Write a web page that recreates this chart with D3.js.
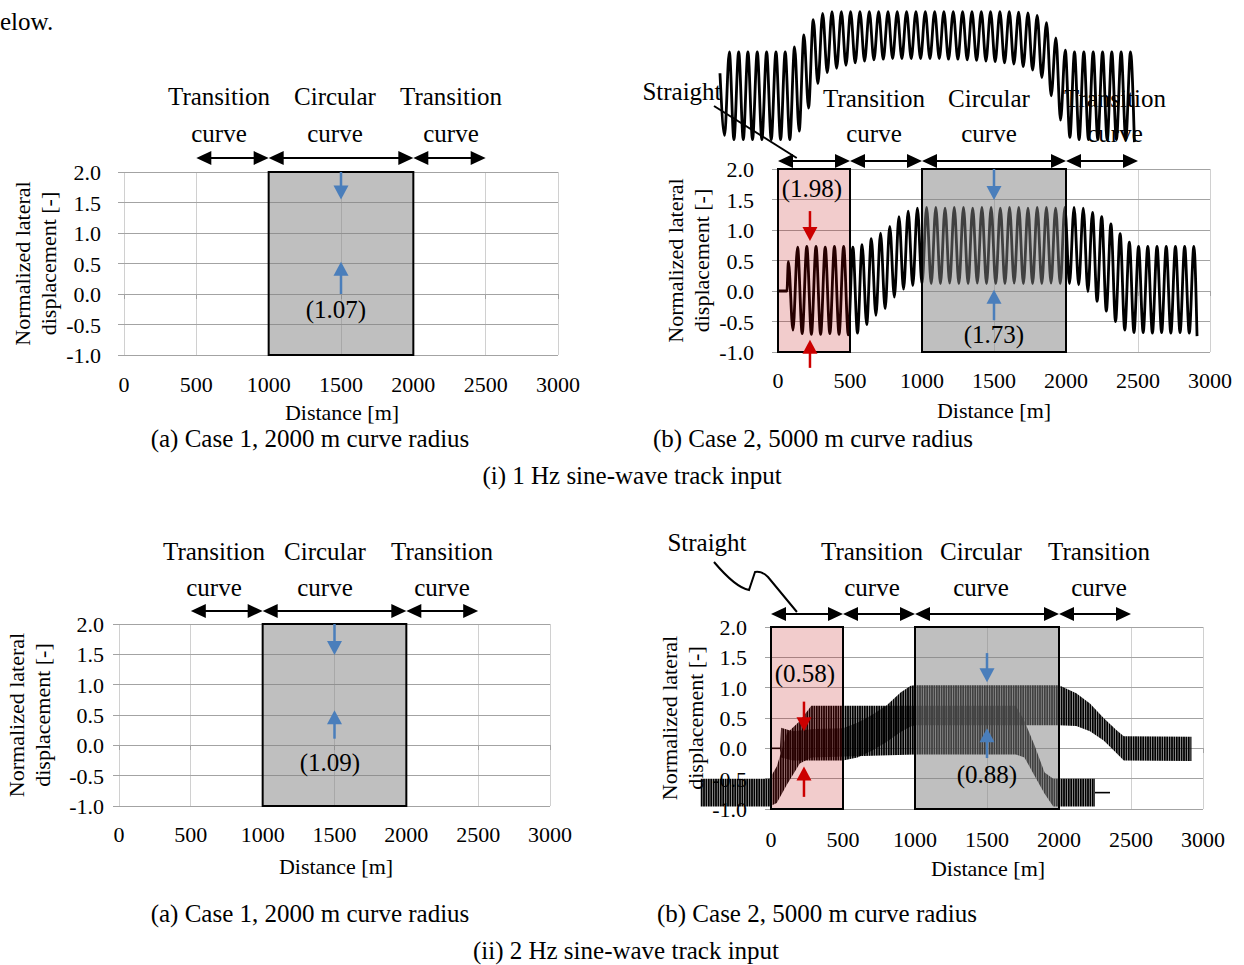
<!DOCTYPE html>
<html lang="en">
<head>
<meta charset="utf-8">
<script src="https://d3js.org/d3.v7.min.js"></script>
<style>
body { margin: 0; background: #fff; }
svg text { font-family: "Liberation Serif", "Times New Roman", serif; fill: #000; }
</style>
</head>
<body>
<script>
// ---- values ----
const xTicks = [0, 500, 1000, 1500, 2000, 2500, 3000];
const yTicks = [2.0, 1.5, 1.0, 0.5, 0.0, -0.5, -1.0];
const sectionTop = ["Transition", "Circular", "Transition"];
const sectionBottom = ["curve", "curve", "curve"];
const curveSpans = [[500, 1000], [1000, 2000], [2000, 2500]];
const straightSpan = [0, 500];
const circularSpan = [1000, 2000];
const ampLabels = ["(1.07)", "(1.98)", "(1.73)", "(1.09)", "(0.58)", "(0.88)"];
const captions = ["(a) Case 1, 2000 m curve radius", "(b) Case 2, 5000 m curve radius",
                  "(i) 1 Hz sine-wave track input", "(ii) 2 Hz sine-wave track input"];

// 1 Hz, case 2: successive peaks / troughs [distance m, displacement]
const wave1Hz = [
  [0,0],[62,0],[72,0.48],[104,-0.64],[136,0.72],[168,-0.70],[200,0.73],[232,-0.71],
  [264,0.73],[296,-0.71],[328,0.72],[360,-0.70],[392,0.73],[424,-0.71],[456,0.73],[488,-0.72],
  [520,0.72],[552,-0.69],[584,0.76],[616,-0.55],[648,0.86],[680,-0.40],[712,0.95],[744,-0.29],
  [776,1.06],[808,-0.10],[840,1.22],[872,0.03],[904,1.31],[936,0.09],[968,1.36],[1000,0.12],
  [1032,1.37],[1064,0.12],[1096,1.37],[1128,0.12],[1160,1.36],[1192,0.13],[1224,1.37],[1256,0.12],
  [1288,1.37],[1320,0.12],[1352,1.36],[1384,0.13],[1416,1.37],[1448,0.12],[1480,1.37],[1512,0.12],
  [1544,1.36],[1576,0.12],[1608,1.37],[1640,0.13],[1672,1.37],[1704,0.12],[1736,1.36],[1768,0.12],
  [1800,1.37],[1832,0.12],[1864,1.37],[1896,0.13],[1928,1.36],[1960,0.12],[1992,1.37],[2024,0.12],
  [2056,1.37],[2088,0.10],[2120,1.36],[2152,-0.01],[2184,1.29],[2216,-0.17],[2248,1.22],[2280,-0.33],
  [2312,1.10],[2344,-0.50],[2376,0.94],[2408,-0.64],[2440,0.80],[2472,-0.68],[2504,0.73],[2536,-0.68],
  [2568,0.73],[2600,-0.69],[2632,0.73],[2664,-0.68],[2696,0.73],[2728,-0.69],[2760,0.73],[2792,-0.68],
  [2824,0.73],[2856,-0.69],[2888,0.73],[2910,-0.74]
];

// stray copy of a 1 Hz trace pasted above panel (i)(b), in that panel's units
const wave1HzCopy = [
  [-403,3.57],[-371,2.55],[-338,3.92],[-306,2.48],[-273,3.92],[-241,2.48],[-209,3.92],[-177,2.48],
  [-144,3.92],[-112,2.48],[-79,3.92],[-47,2.48],[-14,3.92],[18,2.48],[50,3.92],[82,2.48],
  [115,4.00],[147,2.62],[180,4.20],[212,3.00],[245,4.45],[277,3.40],[310,4.55],[342,3.58],
  [375,4.58],[407,3.65],[440,4.58],[472,3.70],[504,4.58],[536,3.74],[569,4.58],[601,3.77],
  [634,4.58],[666,3.79],[699,4.58],[731,3.80],[764,4.58],[796,3.81],[828,4.58],[860,3.81],
  [893,4.58],[925,3.81],[958,4.58],[990,3.81],[1023,4.58],[1055,3.81],[1088,4.58],[1120,3.81],
  [1152,4.58],[1184,3.80],[1217,4.58],[1249,3.80],[1282,4.58],[1314,3.79],[1347,4.58],[1379,3.78],
  [1412,4.58],[1444,3.77],[1476,4.58],[1508,3.76],[1541,4.58],[1573,3.74],[1606,4.58],[1638,3.72],
  [1671,4.57],[1703,3.68],[1736,4.56],[1768,3.62],[1800,4.52],[1832,3.50],[1865,4.40],[1897,3.20],
  [1930,4.15],[1962,2.80],[1995,3.95],[2027,2.52],[2059,3.92],[2091,2.48],[2124,3.92],[2156,2.48],
  [2189,3.92],[2221,2.48],[2254,3.92],[2286,2.48],[2318,3.92],[2350,2.48],[2383,3.92],[2415,2.48],
  [2448,3.92],[2475,2.44]
];

// 2 Hz, case 2: the trace is too dense to separate cycles, so keep its envelope [distance, low, high]
const band2HzMain = [
  [63,-0.03,0.03],[70,-0.15,0.34],[150,-0.20,0.28],[300,-0.20,0.32],[500,-0.20,0.33],
  [600,-0.15,0.42],[700,-0.04,0.55],[800,0.10,0.70],[900,0.27,0.92],[970,0.36,1.03],
  [1000,0.38,1.04],[2000,0.38,1.04],[2120,0.37,0.91],[2215,0.28,0.74],[2310,0.13,0.50],
  [2400,-0.08,0.30],[2450,-0.20,0.20],[2920,-0.21,0.19]
];
const band2HzShifted = [
  [-490,-0.96,-0.50],[-10,-0.96,-0.50],[40,-0.90,-0.30],[110,-0.60,0.25],[200,-0.25,0.45],
  [280,-0.15,0.70],[1000,-0.10,0.70],[1700,-0.10,0.70],[1760,-0.15,0.45],[1830,-0.45,0.05],
  [1900,-0.75,-0.40],[1960,-0.96,-0.50],[2250,-0.96,-0.50]
];
const flat2HzMain = [[0,0],[63,0]];
const flat2HzShifted = [[2250,-0.73],[2354,-0.73]];

// amplitude markers: [panel, distance, tail, tip, colour]
const markerArrows = [
  [0,1500,2.0,1.55,"blue"],[0,1500,0.0,0.53,"blue"],
  [1,1500,2.0,1.49,"blue"],[1,1500,-0.48,0.02,"blue"],[1,222,1.31,0.82,"red"],[1,222,-1.26,-0.80,"red"],
  [2,1500,2.0,1.49,"blue"],[2,1500,0.11,0.58,"blue"],
  [3,1500,1.57,1.09,"blue"],[3,1500,-0.16,0.33,"blue"],[3,229,0.77,0.28,"red"],[3,229,-0.80,-0.30,"red"]
];

// ---- layout ----
const W = 1244, H = 965;
const FONT_BIG = 25, FONT_AX = 22;
const colours = {blue: "#4a7ebb", red: "#cc0000"};

const layout = [
  {x0:124, x1:558, yTop:172, yBot:355, tickRight:101, xLabBase:392, titleX:342, titleBase:420,
   yT1:30, yT2:56, arrowY:158, secTop:105, secBot:142, secX:[219,335,451]},
  {x0:778, x1:1210, yTop:169, yBot:352, tickRight:754, xLabBase:388, titleX:994, titleBase:418,
   yT1:683, yT2:709, arrowY:161, secTop:107, secBot:142, secX:[874,989,1115]},
  {x0:119, x1:550, yTop:624, yBot:806, tickRight:104, xLabBase:842, titleX:336, titleBase:874,
   yT1:24, yT2:50, arrowY:611, secTop:560, secBot:596, secX:[214,325,442]},
  {x0:771, x1:1203, yTop:627, yBot:809, tickRight:747, xLabBase:847, titleX:988, titleBase:876,
   yT1:677, yT2:703, arrowY:614, secTop:560, secBot:596, secX:[872,981,1099]}
];

const svg = d3.select("body").append("svg")
  .attr("width", W).attr("height", H).style("display", "block");

// dense 2 Hz oscillation drawn as a comb of vertical strokes
const defs = svg.append("defs");
defs.append("pattern").attr("id", "comb")
  .attr("patternUnits", "userSpaceOnUse").attr("width", 2.4).attr("height", 10)
  .append("rect").attr("width", 1.9).attr("height", 10).attr("fill", "#000");

function text(g, str, x, y, size, anchor) {
  return g.append("text").attr("x", x).attr("y", y)
    .attr("font-size", size).attr("text-anchor", anchor || "middle").text(str);
}

function dblArrow(g, xa, xb, yy) {
  g.append("line").attr("x1", xa + 4).attr("x2", xb - 4).attr("y1", yy).attr("y2", yy)
    .attr("stroke", "#000").attr("stroke-width", 2);
  g.append("path").attr("d", `M${xa},${yy}L${xa + 15},${yy - 7}L${xa + 15},${yy + 7}Z`).attr("fill", "#000");
  g.append("path").attr("d", `M${xb},${yy}L${xb - 15},${yy - 7}L${xb - 15},${yy + 7}Z`).attr("fill", "#000");
}

function vArrow(g, xx, y0, y1, col) {
  const dir = y1 > y0 ? 1 : -1;
  g.append("line").attr("x1", xx).attr("x2", xx).attr("y1", y0).attr("y2", y1 - dir * 10)
    .attr("stroke", col).attr("stroke-width", 2.5);
  g.append("path").attr("d", `M${xx},${y1}L${xx - 7.5},${y1 - dir * 14}L${xx + 7.5},${y1 - dir * 14}Z`)
    .attr("fill", col);
}

function basePanel(i, spans) {
  const p = layout[i];
  const x = d3.scaleLinear().domain([0, 3000]).range([p.x0, p.x1]);
  const y = d3.scaleLinear().domain([-1, 2]).range([p.yBot, p.yTop]);
  const g = svg.append("g");

  const grid = g.append("g").attr("shape-rendering", "crispEdges");
  grid.selectAll("line.v").data(xTicks).join("line").attr("class", "v")
    .attr("x1", d => x(d)).attr("x2", d => x(d)).attr("y1", p.yTop).attr("y2", p.yBot)
    .attr("stroke", "#d0d0d0");
  grid.selectAll("line.h").data(yTicks).join("line").attr("class", "h")
    .attr("x1", p.x0 - 6).attr("x2", p.x1).attr("y1", d => y(d)).attr("y2", d => y(d))
    .attr("stroke", "#a3a3a3");
  grid.selectAll("line.t").data(xTicks).join("line").attr("class", "t")
    .attr("x1", d => x(d)).attr("x2", d => x(d)).attr("y1", y(0)).attr("y2", y(0) + 5)
    .attr("stroke", "#a3a3a3");

  g.selectAll("text.yt").data(yTicks).join("text").attr("class", "yt")
    .attr("x", p.tickRight).attr("y", d => y(d) + 8).attr("font-size", FONT_AX)
    .attr("text-anchor", "end").text(d => d.toFixed(1));
  g.selectAll("text.xt").data(xTicks).join("text").attr("class", "xt")
    .attr("x", d => x(d)).attr("y", p.xLabBase).attr("font-size", FONT_AX)
    .attr("text-anchor", "middle").text(d => d);
  text(g, "Distance [m]", p.titleX, p.titleBase, FONT_AX);

  const cy = (p.yTop + p.yBot) / 2;
  g.append("text").attr("transform", `translate(${p.yT1},${cy}) rotate(-90)`)
    .attr("font-size", FONT_AX).attr("text-anchor", "middle").text("Normalized lateral");
  g.append("text").attr("transform", `translate(${p.yT2},${cy}) rotate(-90)`)
    .attr("font-size", FONT_AX).attr("text-anchor", "middle").text("displacement [-]");

  sectionTop.forEach((s, k) => text(g, s, p.secX[k], p.secTop, FONT_BIG));
  sectionBottom.forEach((s, k) => text(g, s, p.secX[k], p.secBot, FONT_BIG));
  spans.forEach(s => dblArrow(g, x(s[0]), x(s[1]), p.arrowY));

  return {g, x, y, p};
}

function zoneRect(P, span, fill, op) {
  P.g.append("rect").attr("x", P.x(span[0])).attr("y", P.p.yTop)
    .attr("width", P.x(span[1]) - P.x(span[0])).attr("height", P.p.yBot - P.p.yTop)
    .attr("fill", fill).attr("fill-opacity", op)
    .attr("stroke", "#000").attr("stroke-width", 2);
}

function markers(P, i) {
  markerArrows.filter(a => a[0] === i)
    .forEach(a => vArrow(P.g, P.x(a[1]), P.y(a[2]), P.y(a[3]), colours[a[4]]));
}

const waveLine = (P) => d3.line().x(d => P.x(d[0])).y(d => P.y(d[1])).curve(d3.curveMonotoneX);
const bandArea = (P) => d3.area().x(d => P.x(d[0])).y0(d => P.y(d[1])).y1(d => P.y(d[2]));

// (i)(a)
const P1 = basePanel(0, curveSpans);
zoneRect(P1, circularSpan, "#808080", 0.5);
markers(P1, 0);
text(P1.g, ampLabels[0], 336, 318, FONT_BIG);

// (i)(b)
const P2 = basePanel(1, [straightSpan, ...curveSpans]);
text(P2.g, "Straight", 682, 100, FONT_BIG);
P2.g.append("path").datum(wave1Hz).attr("d", waveLine(P2))
  .attr("fill", "none").attr("stroke", "#000").attr("stroke-width", 2.8).attr("stroke-linejoin", "round");
zoneRect(P2, straightSpan, "rgb(192,0,0)", 0.2);
zoneRect(P2, circularSpan, "#808080", 0.5);
markers(P2, 1);
text(P2.g, ampLabels[1], 812, 197, FONT_BIG);
text(P2.g, ampLabels[2], 994, 343, FONT_BIG);
P2.g.append("path").datum(wave1HzCopy).attr("d", waveLine(P2))
  .attr("fill", "none").attr("stroke", "#000").attr("stroke-width", 2.8).attr("stroke-linejoin", "round");
P2.g.append("path").attr("d", `M714,106L${P2.x(130)},${layout[1].arrowY - 3}`)
  .attr("stroke", "#000").attr("stroke-width", 2).attr("fill", "none");

// (ii)(a)
const P3 = basePanel(2, curveSpans);
zoneRect(P3, circularSpan, "#808080", 0.5);
markers(P3, 2);
text(P3.g, ampLabels[3], 330, 771, FONT_BIG);

// (ii)(b)
const P4 = basePanel(3, [straightSpan, ...curveSpans]);
text(P4.g, "Straight", 707, 551, FONT_BIG);
[band2HzShifted, band2HzMain].forEach(b =>
  P4.g.append("path").datum(b).attr("d", bandArea(P4)).attr("fill", "url(#comb)"));
[flat2HzMain, flat2HzShifted].forEach(f =>
  P4.g.append("path").datum(f).attr("d", d3.line().x(d => P4.x(d[0])).y(d => P4.y(d[1])))
    .attr("stroke", "#000").attr("stroke-width", 1.6).attr("fill", "none"));
zoneRect(P4, straightSpan, "rgb(192,0,0)", 0.2);
zoneRect(P4, circularSpan, "#808080", 0.5);
markers(P4, 3);
text(P4.g, ampLabels[4], 805, 682, FONT_BIG);
text(P4.g, ampLabels[5], 987, 783, FONT_BIG);
P4.g.append("path")
  .attr("d", `M714,562C725,575 738,588 749,590L755,572C760,571 764,573 768,577L${P4.x(180)},${layout[3].arrowY - 2}`)
  .attr("stroke", "#000").attr("stroke-width", 2).attr("fill", "none");

// captions
text(svg, captions[0], 310, 447, FONT_BIG);
text(svg, captions[1], 813, 447, FONT_BIG);
text(svg, captions[2], 632, 484, FONT_BIG);
text(svg, captions[0], 310, 922, FONT_BIG);
text(svg, captions[1], 817, 922, FONT_BIG);
text(svg, captions[3], 626, 959, FONT_BIG);
// tail of the page text above the figure, cut at the left edge in the source
text(svg, "elow.", 0, 30, FONT_BIG, "start");
</script>
</body>
</html>
